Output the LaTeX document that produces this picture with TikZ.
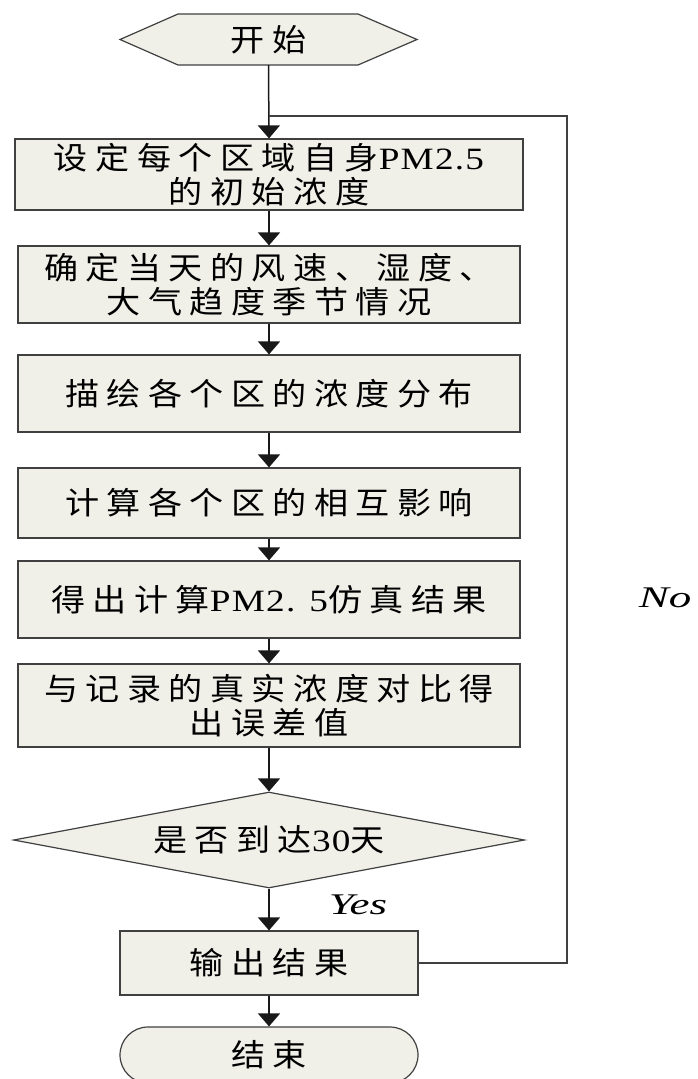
\documentclass[tikz,border=0pt]{standalone}
\usepackage{fontspec}
\usetikzlibrary{shapes.geometric,arrows.meta,calc}
\newfontfamily\cjk[LetterSpace=24,FakeStretch=1.1]{Noto Sans CJK SC}
\newfontfamily\lat[LetterSpace=4,FakeStretch=1.2]{Liberation Serif}
\newfontfamily\latit[FakeStretch=1.5]{Liberation Serif}
\definecolor{boxfill}{RGB}{240,240,233}
\definecolor{edgegray}{RGB}{64,64,64}
\definecolor{conngray}{RGB}{25,25,25}
\begin{document}
\begin{tikzpicture}[x=1pt,y=-1pt,
  txt/.style={font=\cjk\fontsize{31}{34}\selectfont, align=center, inner sep=0pt},
  proc/.style={txt, draw=edgegray, line width=1.2pt, fill=boxfill},
  shapeline/.style={draw=edgegray, line width=1.2pt, fill=boxfill},
  conn/.style={draw=conngray, line width=1.5pt, -{Triangle[width=22pt,length=13pt]}},
  loopline/.style={draw=edgegray, line width=1.2pt},
  lbl/.style={font=\latit\itshape\fontsize{30}{32}\selectfont, inner sep=0pt}]
\useasboundingbox (0,0) rectangle (697,1079);
% start hexagon
\filldraw[shapeline] (120,39.5) -- (178,14) -- (358,14) -- (417,39.5) -- (358,65) -- (178,65) -- cycle;
\node[txt, minimum width=297pt, minimum height=51pt] (start) at (268.5,39.5) {开始};
% process boxes
\node[proc, minimum width=508pt, minimum height=71pt] (b1) at (269,174.5) {设定每个区域自身{\lat\fontsize{31}{34}\selectfont PM2.5}\\的初始浓度};
\node[proc, minimum width=502pt, minimum height=77pt] (b2) at (269,284.5) {确定当天的风速、湿度、\\大气趋度季节情况};
\node[proc, minimum width=502pt, minimum height=77pt] (b3) at (269,393.5) {描绘各个区的浓度分布};
\node[proc, minimum width=502pt, minimum height=70pt] (b4) at (269,503) {计算各个区的相互影响};
\node[proc, minimum width=502pt, minimum height=77pt] (b5) at (269,599.5) {得出计算{\lat\fontsize{31}{34}\selectfont PM2. 5}仿真结果};
\node[proc, minimum width=502pt, minimum height=83pt] (b6) at (269,705.5) {与记录的真实浓度对比得\\出误差值};
% decision
\node[proc, diamond, aspect=5.3, minimum width=511pt, minimum height=96pt] (dec) at (269,840) {是否到达{\lat\fontsize{31}{34}\selectfont 30}天};
% output
\node[proc, minimum width=298pt, minimum height=64pt] (out) at (269,963) {输出结果};
% end terminal
\node[proc, rounded corners=28pt, minimum width=298pt, minimum height=56pt] (end) at (269,1055) {结束};
% connectors
\coordinate (join) at (269,116);
\coordinate (tr) at (567,116);
\draw[conn] (start.south) -- (b1.north);
\draw[conn] (b1) -- (b2);
\draw[conn] (b2) -- (b3);
\draw[conn] (b3) -- (b4);
\draw[conn] (b4) -- (b5);
\draw[conn] (b5) -- (b6);
\draw[conn] (b6) -- (dec);
\draw[conn] (dec) -- (out);
\draw[conn] (out) -- (end);
\draw[loopline] (out.east) -| (tr) -- (join);
% labels
\node[lbl] (yes) at (358,905) {Yes};
\node[lbl] (no) at (665,598) {No};
\end{tikzpicture}
\end{document}
